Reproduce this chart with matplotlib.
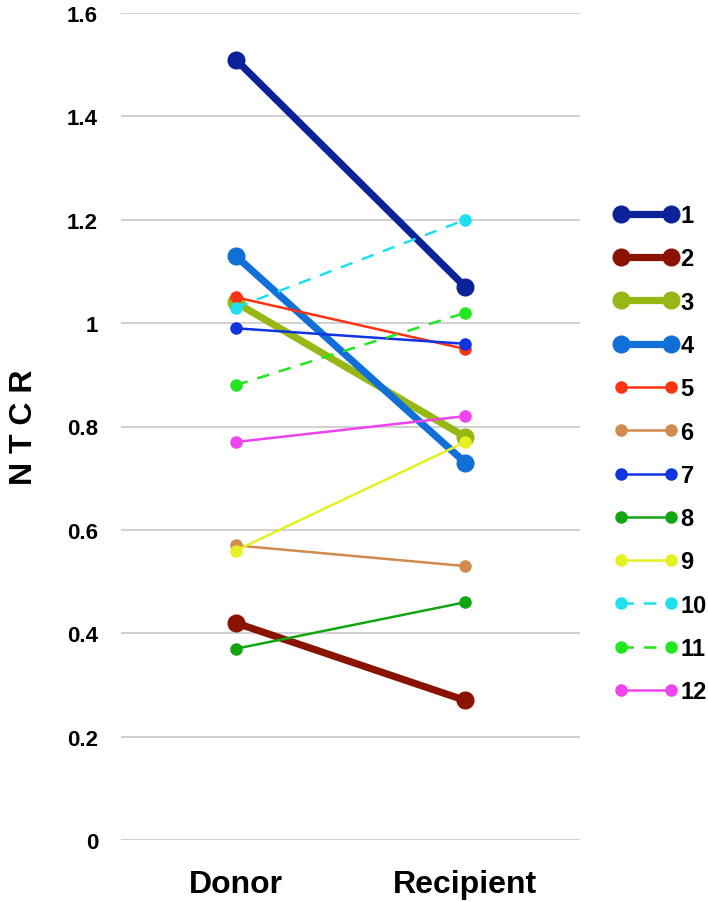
import matplotlib
matplotlib.use("Agg")
import matplotlib.pyplot as plt
from matplotlib.lines import Line2D
from matplotlib.legend_handler import HandlerLine2D

categories = ["Donor", "Recipient"]
series_names = ["1", "2", "3", "4", "5", "6", "7", "8", "9", "10", "11", "12"]
donor = [1.51, 0.42, 1.04, 1.13, 1.05, 0.57, 0.99, 0.37, 0.56, 1.03, 0.88, 0.77]
recipient = [1.07, 0.27, 0.78, 0.73, 0.95, 0.53, 0.96, 0.46, 0.77, 1.20, 1.02, 0.82]
colors = ["#0b2299", "#8a1300", "#97b814", "#1170d8", "#ff3311", "#d18b4d",
          "#0f34e0", "#11a611", "#e6f022", "#1ee0ee", "#22e622", "#ee44ee"]
thick = [True, True, True, True, False, False, False, False, False, False, False, False]
dashed = [False] * 9 + [True, True, False]
yticks = [0, 0.2, 0.4, 0.6, 0.8, 1.0, 1.2, 1.4, 1.6]
ytick_labels = ["0", "0.2", "0.4", "0.6", "0.8", "1", "1.2", "1.4", "1.6"]

fig = plt.figure(figsize=(7.08, 9.03), dpi=100)
ax = fig.add_axes([121 / 708, 62 / 903, 459 / 708, 827 / 903])

handles = []
for i, name in enumerate(series_names):
    lw = 5.2 if thick[i] else 1.8
    ms = 12 if thick[i] else 8
    ls = (0, (5, 4)) if dashed[i] else "-"
    ln, = ax.plot([0, 1], [donor[i], recipient[i]], color=colors[i], lw=lw,
                  ls=ls, marker="o", ms=ms, mfc=colors[i], mec=colors[i],
                  solid_capstyle="round", zorder=3 + i)
    handles.append(ln)

ax.set_xlim(-0.5, 1.5)
ax.set_ylim(0, 1.6)
ax.set_yticks(yticks)
ax.set_yticklabels(ytick_labels, fontsize=16, fontweight="bold", family="Liberation Sans")
ax.set_xticks([0, 1])
ax.set_xticklabels(categories, fontsize=23, fontweight="bold", family="Liberation Sans")
ax.tick_params(axis="both", length=0)
ax.tick_params(axis="y", pad=16.5)
ax.tick_params(axis="x", pad=21)
ax.grid(axis="y", color="#d0d0d0", lw=1.4)
ax.set_axisbelow(True)
for s in ax.spines.values():
    s.set_visible(False)

ax.set_ylabel("N T C R", fontsize=23, fontweight="bold", family="Liberation Sans")
ax.yaxis.set_label_coords(-0.178, 0.5)

leg = fig.legend(handles, series_names, loc="upper left",
                 bbox_to_anchor=(621 / 708, 1 - 205 / 903), frameon=False,
                 borderaxespad=0, borderpad=0,
                 handlelength=2.12, handletextpad=0.4, labelspacing=0.86,
                 handler_map={Line2D: HandlerLine2D(marker_pad=0, numpoints=2)},
                 prop={"family": "Liberation Sans", "weight": "bold", "size": 17})

fig.savefig("out.png", dpi=100)
